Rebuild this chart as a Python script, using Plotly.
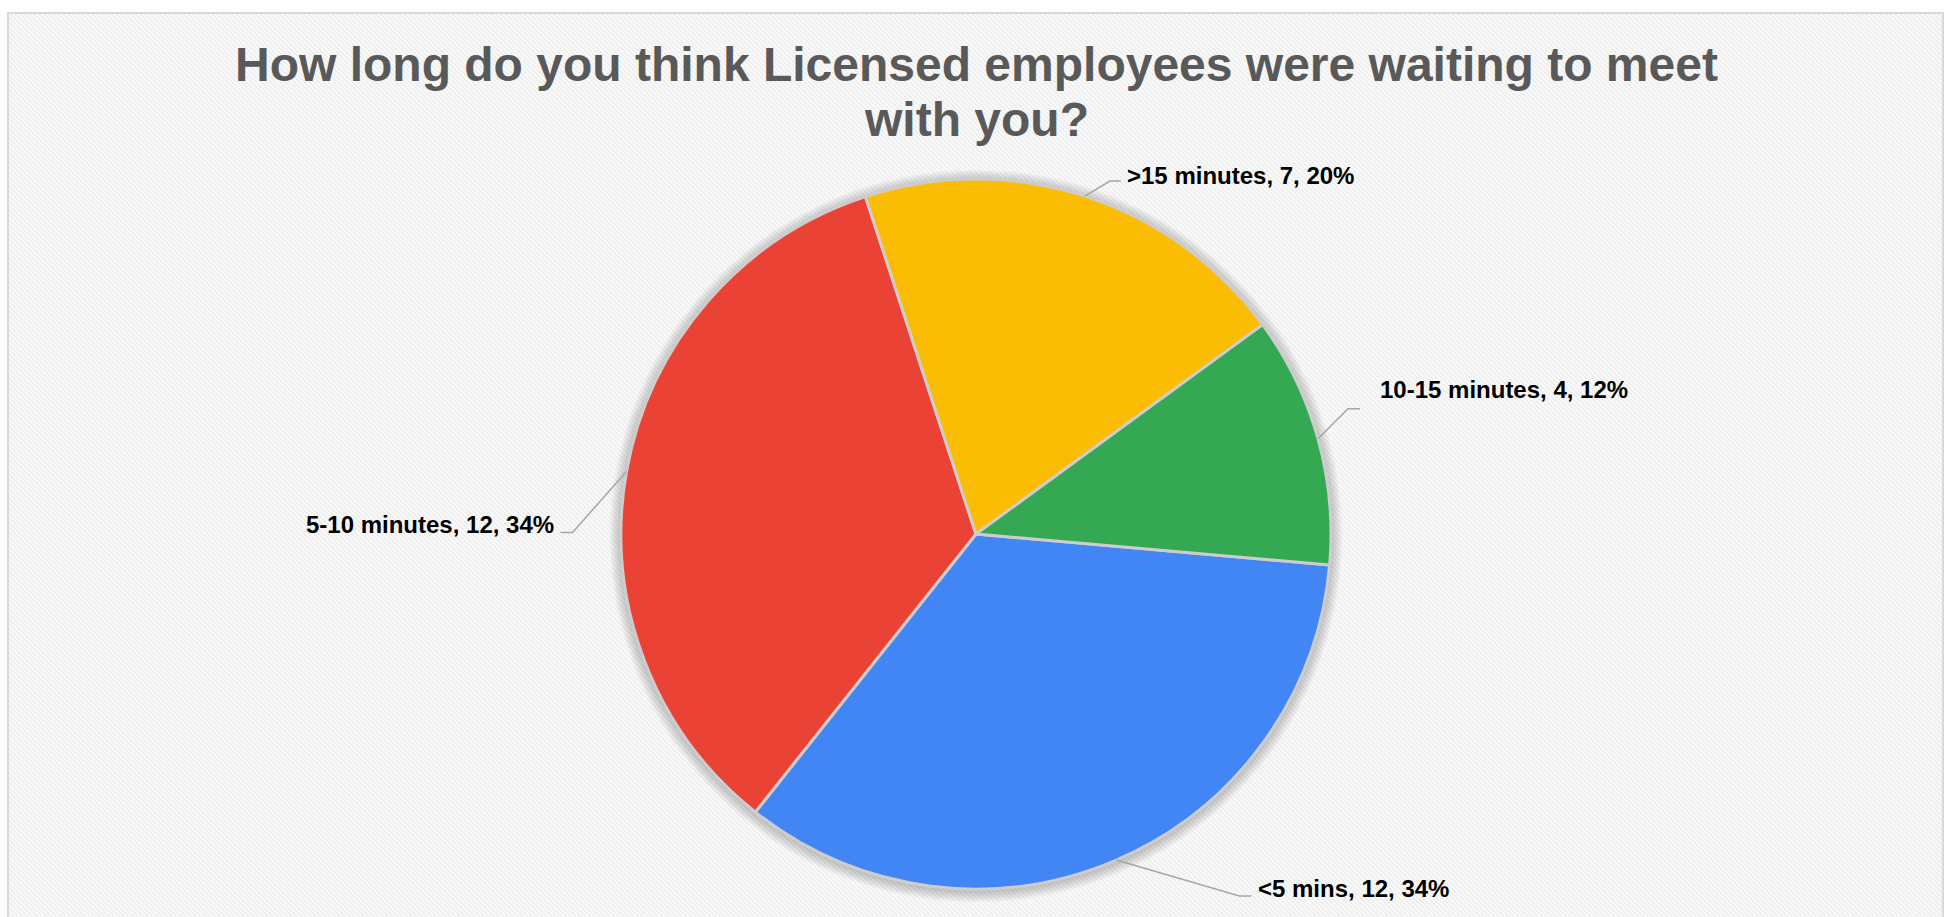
import base64
import math
import plotly.graph_objects as go

# ---- data -------------------------------------------------------------
categories = ["<5 mins", "5-10 minutes", ">15 minutes", "10-15 minutes"]
counts = [12, 12, 7, 4]
percent_labels = ["34%", "34%", "20%", "12%"]
slice_colors = ["#4285F4", "#EA4335", "#FBBC04", "#34A853"]

title_lines = [
    "How long do you think Licensed employees were waiting to meet",
    "with you?",
]

# ---- layout geometry (pixels) -----------------------------------------
W, H = 1945, 917
CX, CY, R = 976, 534, 355          # pie centre and radius
ROTATION = 95                       # first slice starts here, clockwise from 12 o'clock
FRAME = (8, 13, 1943, 930)          # chart frame

# leader line: elbow offset from the slice edge, tail length, text gap, text y shift
leader_layout = [
    dict(elbow=(123, 36), tail=12, gap=5, ty=-8),     # <5 mins
    dict(elbow=(-54, 61), tail=-12, gap=5, ty=-8),    # 5-10 minutes
    dict(elbow=(25, -15), tail=11, gap=4, ty=-6),     # >15 minutes
    dict(elbow=(30, -30), tail=12, gap=18, ty=-19),   # 10-15 minutes
]

FONT = "Liberation Sans, Arial, sans-serif"


def fx(x):
    return x / W


def fy(y):
    return 1 - y / H


# ---- striped background as an inline SVG pattern -----------------------
fw, fh = FRAME[2] - FRAME[0], H - FRAME[1]
svg = f"""<svg xmlns='http://www.w3.org/2000/svg' width='{fw}' height='{fh}' viewBox='0 0 {fw} {fh}' preserveAspectRatio='none'>
<defs><pattern id='p' width='3.4' height='3.4' patternUnits='userSpaceOnUse' patternTransform='rotate(-45)'>
<rect width='3.4' height='3.4' fill='#fbfbfb'/><rect width='1.5' height='3.4' fill='#ececec'/></pattern></defs>
<rect width='100%' height='100%' fill='url(#p)'/></svg>"""
svg_uri = "data:image/svg+xml;base64," + base64.b64encode(svg.encode()).decode()

fig = go.Figure()

fig.add_trace(go.Pie(
    labels=categories,
    values=counts,
    sort=False,
    direction="clockwise",
    rotation=ROTATION,
    textinfo="none",
    hovertemplate="%{label}: %{value}<extra></extra>",
    marker=dict(colors=slice_colors, line=dict(color="#cdcdcd", width=3)),
    domain=dict(x=[fx(CX - R), fx(CX + R)], y=[fy(CY + R), fy(CY - R)]),
    showlegend=False,
))

shapes = []
# soft shadow around the pie
for i in range(1, 8):
    r = R + i * 1.6
    shapes.append(dict(
        type="circle", xref="paper", yref="paper", layer="below",
        x0=fx(CX - r), x1=fx(CX + r), y0=fy(CY + 2 + r), y1=fy(CY + 2 - r),
        fillcolor="rgba(0,0,0,0.03)", line=dict(width=0),
    ))

# frame
shapes.append(dict(
    type="rect", xref="paper", yref="paper", layer="above",
    x0=fx(FRAME[0]), x1=fx(FRAME[2]), y0=fy(FRAME[3]), y1=fy(FRAME[1]),
    line=dict(color="#d9d9d9", width=2), fillcolor="rgba(0,0,0,0)",
))

annotations = []
total = sum(counts)
cum = 0
for cat, val, pct, lay in zip(categories, counts, percent_labels, leader_layout):
    mid = math.radians(ROTATION + (cum + val / 2) / total * 360)
    cum += val
    x0, y0 = CX + R * math.sin(mid), CY - R * math.cos(mid)
    x1, y1 = x0 + lay["elbow"][0], y0 + lay["elbow"][1]
    x2 = x1 + lay["tail"]
    shapes.append(dict(
        type="path", xref="paper", yref="paper", layer="above",
        path=f"M {fx(x0)},{fy(y0)} L {fx(x1)},{fy(y1)} L {fx(x2)},{fy(y1)}",
        line=dict(color="#a6a6a6", width=1.5),
    ))
    right = lay["tail"] > 0
    annotations.append(dict(
        xref="paper", yref="paper", showarrow=False,
        x=fx(x2 + (lay["gap"] if right else -lay["gap"])), y=fy(y1 + lay["ty"]),
        xanchor="left" if right else "right", yanchor="middle",
        text=f"{cat}, {val}, {pct}",
        font=dict(family=FONT, size=24, color="#000000", weight="bold"),
    ))

# title, two centred lines
for text, yc in zip(title_lines, [65, 120]):
    annotations.append(dict(
        xref="paper", yref="paper", showarrow=False,
        x=fx(CX), y=fy(yc), xanchor="center", yanchor="middle",
        text=text,
        font=dict(family=FONT, size=48, color="#595959", weight="bold"),
    ))

fig.update_layout(
    width=W, height=H,
    margin=dict(l=0, r=0, t=0, b=0),
    paper_bgcolor="#ffffff",
    plot_bgcolor="#ffffff",
    shapes=shapes,
    annotations=annotations,
    images=[dict(
        source=svg_uri, xref="paper", yref="paper",
        x=fx(FRAME[0]), y=fy(FRAME[1]), sizex=fw / W, sizey=fh / H,
        xanchor="left", yanchor="top", sizing="stretch", layer="below",
    )],
)

fig.write_html("out.html")
